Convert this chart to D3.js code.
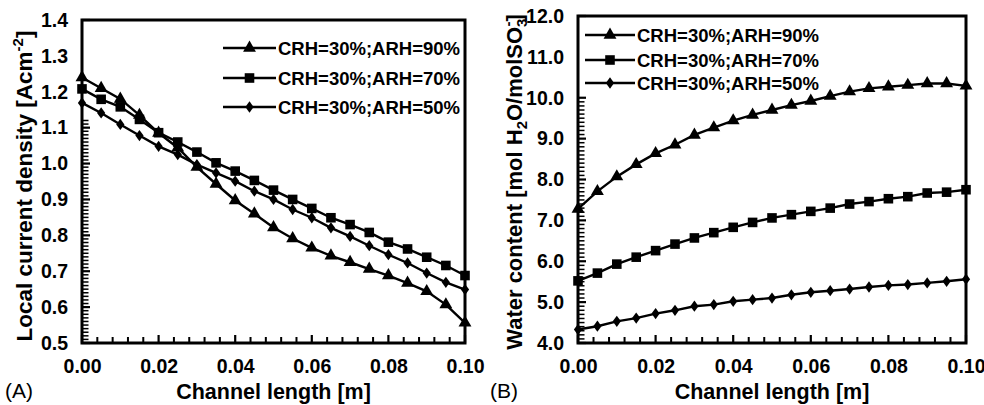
<!DOCTYPE html>
<html><head><meta charset="utf-8">
<script src="https://cdn.jsdelivr.net/npm/d3@7/dist/d3.min.js"></script>
<style>
html,body{margin:0;padding:0;background:#fff;}
svg{display:block;font-family:"Liberation Sans",Arial,Helvetica,sans-serif;}
</style></head>
<body>
<svg id="chart" width="984" height="405"></svg>
<script>
// ---- data ----
const channelLength = [0.000,0.005,0.010,0.015,0.020,0.025,0.030,0.035,0.040,0.045,0.050,
                       0.055,0.060,0.065,0.070,0.075,0.080,0.085,0.090,0.095,0.100];
const seriesNames = ["CRH=30%;ARH=90%","CRH=30%;ARH=70%","CRH=30%;ARH=50%"];
const markerTypes = ["triangle","square","diamond"];

// Panel A: local current density [A cm-2]
const currentARH90 = [1.24,1.21,1.18,1.135,1.085,1.044,0.99,0.943,0.897,0.86,0.822,
                      0.791,0.765,0.743,0.725,0.706,0.688,0.667,0.644,0.607,0.556];
const currentARH70 = [1.208,1.179,1.158,1.123,1.086,1.06,1.032,1.002,0.979,0.953,0.926,
                      0.90,0.875,0.849,0.83,0.808,0.781,0.762,0.739,0.716,0.688];
const currentARH50 = [1.169,1.141,1.109,1.078,1.048,1.025,0.997,0.974,0.951,0.923,0.90,
                      0.872,0.849,0.821,0.797,0.771,0.746,0.723,0.695,0.669,0.649];

// Panel B: water content [mol H2O / mol SO3-]
const waterARH90 = [7.28,7.71,8.07,8.37,8.64,8.85,9.09,9.27,9.44,9.58,9.70,
                    9.82,9.92,10.04,10.15,10.23,10.27,10.31,10.35,10.35,10.29];
const waterARH70 = [5.52,5.71,5.93,6.10,6.26,6.42,6.57,6.70,6.83,6.95,7.06,
                    7.14,7.22,7.30,7.40,7.46,7.53,7.58,7.67,7.69,7.75];
const waterARH50 = [4.33,4.41,4.53,4.61,4.72,4.80,4.90,4.94,5.02,5.06,5.10,
                    5.18,5.24,5.28,5.32,5.37,5.41,5.43,5.47,5.51,5.56];

const xTicks = [0,0.02,0.04,0.06,0.08,0.10];
const yTicksA = [0.5,0.6,0.7,0.8,0.9,1.0,1.1,1.2,1.3,1.4];
const yTicksB = [4,5,6,7,8,9,10,11,12];

// ---- drawing ----
const svg = d3.select("#chart");
const FONT = '"Liberation Sans",Arial,Helvetica,sans-serif';

const narrowDiamond = {
  draw(ctx, size){
    const h = Math.sqrt(size/1.45), w = h*0.73;
    ctx.moveTo(0,-h); ctx.lineTo(w,0); ctx.lineTo(0,h); ctx.lineTo(-w,0); ctx.closePath();
  }
};
function symbolFor(t){
  if(t==="triangle") return d3.symbol().type(d3.symbolTriangle).size(72)();
  if(t==="square") return d3.symbol().type(d3.symbolSquare).size(92)();
  return d3.symbol().type(narrowDiamond).size(46)();
}

function panel(cfg){
  const g = svg.append("g");
  const x = d3.scaleLinear().domain([0,0.1]).range(cfg.xr);
  const y = d3.scaleLinear().domain(cfg.yd).range(cfg.yr);
  const x0 = cfg.xr[0], y0 = cfg.yr[0];

  // x / y tick labels via axis
  g.append("g").attr("transform",`translate(0,${y0})`)
    .call(d3.axisBottom(x).tickValues(xTicks).tickSize(0).tickPadding(16).tickFormat(d3.format(".2f")))
    .call(a=>a.select(".domain").remove())
    .call(a=>a.selectAll("line").remove())
    .call(a=>a.selectAll("text").attr("font-family",FONT).attr("font-size",19.5).attr("font-weight","bold").attr("fill","#000"));
  g.append("g").attr("transform",`translate(${x0},0)`)
    .call(d3.axisLeft(y).tickValues(cfg.yTicks).tickSize(0).tickPadding(14).tickFormat(d3.format(".1f")))
    .call(a=>a.select(".domain").remove())
    .call(a=>a.selectAll("line").remove())
    .call(a=>a.selectAll("text").attr("font-family",FONT).attr("font-size",19.5).attr("font-weight","bold").attr("fill","#000"));

  // legend background
  g.append("rect").attr("x",cfg.leg.bx).attr("y",cfg.leg.by).attr("width",cfg.leg.bw).attr("height",cfg.leg.bh).attr("fill","#fff");

  // series
  const line = d3.line().x((d,i)=>x(channelLength[i])).y(d=>y(d));
  cfg.series.forEach((s,k)=>{
    g.append("path").datum(s).attr("d",line).attr("fill","none").attr("stroke","#000").attr("stroke-width",2.4);
    g.selectAll(null).data(s).enter().append("path")
      .attr("d",symbolFor(markerTypes[k]))
      .attr("transform",(d,i)=>`translate(${x(channelLength[i])},${y(d)})`)
      .attr("fill","#000");
  });

  // frame
  g.append("rect").attr("x",cfg.xr[0]).attr("y",cfg.yr[1]).attr("width",cfg.xr[1]-cfg.xr[0]).attr("height",cfg.yr[0]-cfg.yr[1])
    .attr("fill","none").attr("stroke","#000").attr("stroke-width",3);

  // inward tick marks, drawn from the scales
  const xMinor = d3.range(0,0.1001,0.004).filter(v=>!xTicks.some(t=>Math.abs(t-v)<1e-6));
  const yMinor = d3.range(cfg.yd[0],cfg.yd[1]+cfg.minorStep/2,cfg.minorStep)
        .filter(v=>!cfg.yTicks.some(t=>Math.abs(t-v)<1e-6) && y(v) > cfg.leg.by+cfg.leg.bh);
  const yMajor = cfg.yTicks.filter(v=>y(v) > cfg.leg.by+cfg.leg.bh || v===cfg.yd[1]);
  const tk = g.append("g");
  tk.selectAll(null).data(xMinor).enter().append("rect")
    .attr("x",d=>x(d)-1).attr("width",2).attr("y",y0-6).attr("height",6).attr("fill","#000");
  tk.selectAll(null).data(xTicks).enter().append("rect")
    .attr("x",d=>x(d)-1.1).attr("width",2.2).attr("y",y0-8).attr("height",8).attr("fill","#000");
  tk.selectAll(null).data(yMinor).enter().append("rect")
    .attr("y",d=>y(d)-0.75).attr("height",1.5).attr("x",x0).attr("width",6.5).attr("fill","#000");
  tk.selectAll(null).data(yMajor).enter().append("rect")
    .attr("y",d=>y(d)-1.1).attr("height",2.2).attr("x",x0).attr("width",8).attr("fill","#000");

  // legend
  seriesNames.forEach((n,k)=>{
    const yy = cfg.leg.rows[k];
    g.append("line").attr("x1",cfg.leg.x1).attr("x2",cfg.leg.x2).attr("y1",yy).attr("y2",yy).attr("stroke","#000").attr("stroke-width",2.6);
    g.append("path").attr("d",symbolFor(markerTypes[k])).attr("transform",`translate(${(cfg.leg.x1+cfg.leg.x2)/2},${yy})`).attr("fill","#000");
    g.append("text").attr("x",cfg.leg.x2+2).attr("y",yy+6.5).text(n)
      .attr("font-family",FONT).attr("font-size",18.5).attr("font-weight","bold").attr("fill","#000");
  });

  // x label
  g.append("text").attr("x",(cfg.xr[0]+cfg.xr[1])/2).attr("y",399).attr("text-anchor","middle")
    .attr("font-family",FONT).attr("font-size",21.5).attr("font-weight","bold").text("Channel length [m]");
  // panel letter
  g.append("text").attr("x",cfg.letterX).attr("y",398).attr("font-family",FONT).attr("font-size",21).text(cfg.letter);
  return g;
}

const gA = panel({xr:[82,465], yd:[0.5,1.4], yr:[343,20], yTicks:yTicksA, minorStep:0.01,
  series:[currentARH90,currentARH70,currentARH50],
  leg:{bx:220,by:34,bw:243,bh:86,x1:223,x2:276,rows:[48,78,107]}, letter:"(A)", letterX:5});
const gB = panel({xr:[578,966], yd:[4,12], yr:[343,16], yTicks:yTicksB, minorStep:0.1,
  series:[waterARH90,waterARH70,waterARH50],
  leg:{bx:580,by:18,bw:245,bh:76,x1:585,x2:635,rows:[35,60,83]}, letter:"(B)", letterX:490});

// y labels
const yl1 = svg.append("text").attr("transform","translate(32,186) rotate(-90)").attr("text-anchor","middle")
  .attr("font-family",FONT).attr("font-size",22.5).attr("font-weight","bold");
yl1.append("tspan").text("Local current density [Acm");
yl1.append("tspan").attr("dy",-9).attr("font-size",15).text("-2");
yl1.append("tspan").attr("dy",9).text("]");

const yl2 = svg.append("text").attr("transform","translate(522,182) rotate(-90)").attr("text-anchor","middle")
  .attr("font-family",FONT).attr("font-size",22).attr("font-weight","bold");
yl2.append("tspan").text("Water content [mol H");
yl2.append("tspan").attr("dy",5).attr("font-size",15).text("2");
yl2.append("tspan").attr("dy",-5).text("O/molSO");
yl2.append("tspan").attr("dy",5).attr("font-size",15).text("3");
yl2.append("tspan").attr("dy",-14).attr("dx",-8).attr("font-size",15).text("-");
yl2.append("tspan").attr("dy",9).text("]");
</script>
</body></html>
